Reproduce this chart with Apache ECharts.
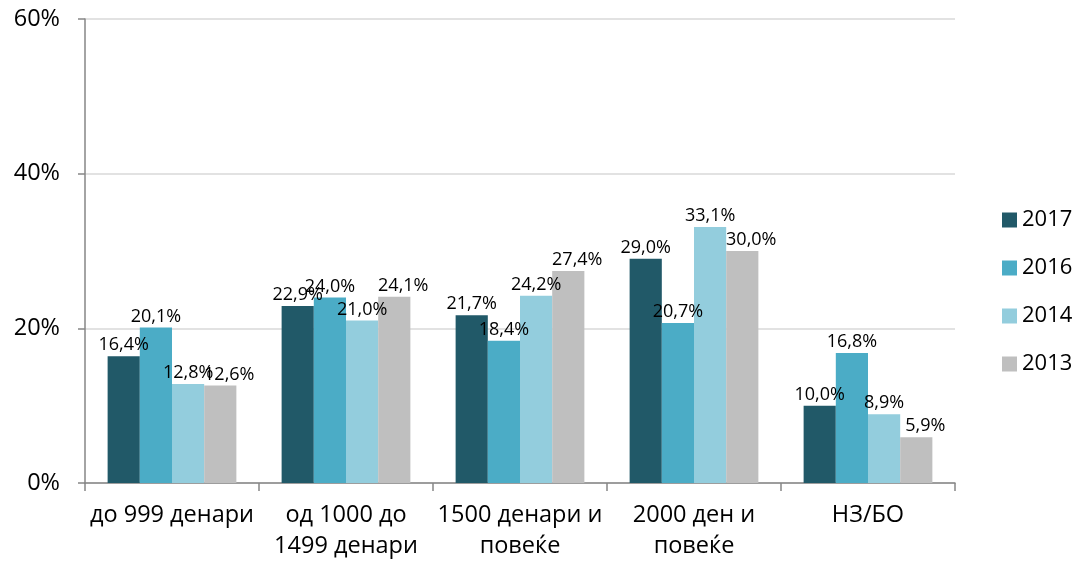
<!DOCTYPE html>
<html>
<head>
<meta charset="utf-8">
<script src="https://cdn.jsdelivr.net/npm/echarts@6/dist/echarts.min.js"></script>
<style>
  html, body { margin: 0; padding: 0; background: #fff; }
  #chartMain { width: 1076px; height: 562px; }
</style>
</head>
<body>
<div id="chartMain"></div>
<script>
// категории и вредности (во проценти)
var categories = ['до 999 денари', 'од 1000 до\n1499 денари', '1500 денари и\nповеќе', '2000 ден и\nповеќе', 'НЗ/БО'];
var years = ['2017', '2016', '2014', '2013'];
var values2017 = [16.4, 22.9, 21.7, 29.0, 10.0];
var values2016 = [20.1, 24.0, 18.4, 20.7, 16.8];
var values2014 = [12.8, 21.0, 24.2, 33.1, 8.9];
var values2013 = [12.6, 24.1, 27.4, 30.0, 5.9];
var colors = ['#215968', '#4BACC6', '#93CDDD', '#BFBFBF'];

var fontName = '"Open Sans", "Noto Sans", sans-serif';
var myChart = echarts.init(document.getElementById('chartMain'));

// labelShift: the 2013 labels sit a bit to the right of their bars in the original
function makeSeries(name, data, color, labelShift) {
  return {
    name: name,
    type: 'bar',
    data: data,
    barGap: '0%',
    barCategoryGap: '26%',
    itemStyle: { color: color },
    label: {
      show: true,
      position: 'top',
      distance: 2,
      offset: [labelShift || 0, 0],
      color: '#000',
      fontSize: 18,
      fontFamily: fontName,
      formatter: function (p) {
        return p.value.toFixed(1).replace('.', ',') + '%';
      }
    }
  };
}

var option = {
  animation: false,
  textStyle: { fontFamily: fontName },
  grid: { left: 85, right: 121, top: 19, bottom: 77 },
  legend: {
    orient: 'vertical',
    left: 997,
    top: 204,
    itemWidth: 15,
    itemHeight: 15,
    itemGap: 26,
    icon: 'rect',
    textStyle: { fontSize: 22, color: '#000', fontFamily: fontName },
    data: years
  },
  xAxis: {
    type: 'category',
    data: categories,
    axisLine: { lineStyle: { color: '#868686', width: 1.5 } },
    axisTick: { show: true, interval: 0, length: 8, lineStyle: { color: '#868686', width: 1.5 } },
    axisLabel: { interval: 0, color: '#000', fontSize: 23.5, margin: 17, lineHeight: 31, fontFamily: fontName }
  },
  yAxis: {
    type: 'value',
    min: 0,
    max: 60,
    interval: 20,
    axisLine: { show: true, lineStyle: { color: '#868686', width: 1.5 } },
    axisTick: { show: true, length: 7, lineStyle: { color: '#868686', width: 1.5 } },
    splitLine: { lineStyle: { color: '#D9D9D9', width: 1.5 } },
    axisLabel: {
      color: '#000', fontSize: 23.5, margin: 25, fontFamily: fontName,
      formatter: function (v) { return v + '%'; }
    }
  },
  series: [
    makeSeries('2017', values2017, colors[0]),
    makeSeries('2016', values2016, colors[1]),
    makeSeries('2014', values2014, colors[2]),
    makeSeries('2013', values2013, colors[3], 9)
  ]
};

myChart.setOption(option);
</script>
</body>
</html>
